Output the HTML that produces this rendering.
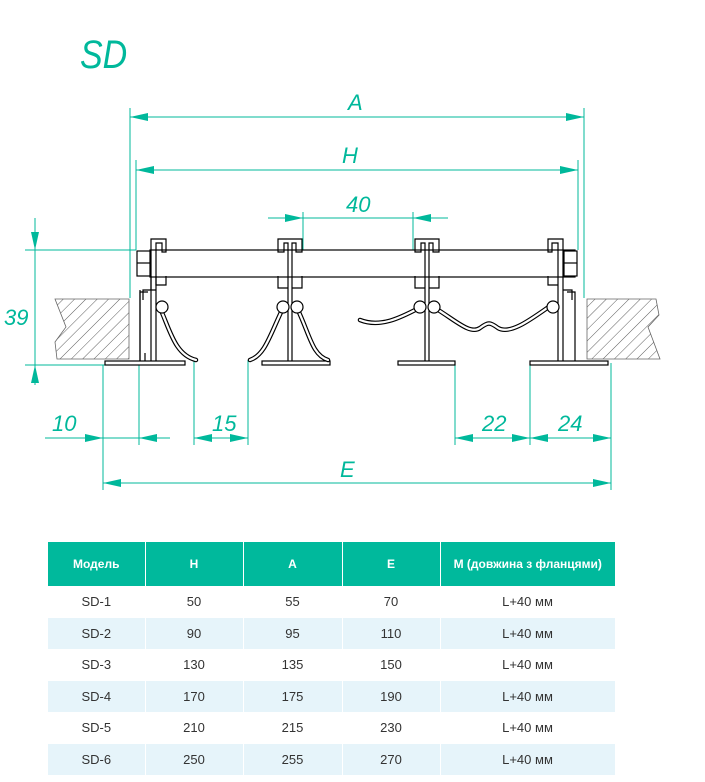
<!DOCTYPE html>
<html><head><meta charset="utf-8"><style>
body{margin:0;background:#fff;width:705px;height:782px;position:relative;font-family:"Liberation Sans",sans-serif;overflow:hidden}
svg{position:absolute;left:0;top:0}
table{position:absolute;left:48px;top:542px;border-collapse:collapse;font-size:13px;color:#333;table-layout:fixed;width:567px}
td,th{text-align:center;padding:0}
th{background:#00b99c;color:#fff;font-weight:bold;font-size:12px;height:44px;border-right:1px solid #fff}
td{height:31.5px;border-right:1px solid #fff}
tr.a td{background:#e6f4fa}
</style></head><body>
<svg width="705" height="520" viewBox="0 0 705 520">
<defs>
<pattern id="h" width="8" height="8" patternUnits="userSpaceOnUse" patternTransform="rotate(45)">
<line x1="0" y1="0" x2="0" y2="8" stroke="#333" stroke-width="0.8"/></pattern>
<marker id="ar" markerWidth="18" markerHeight="10" refX="18" refY="5" orient="auto" markerUnits="userSpaceOnUse"><path d="M0,1 L18,5 L0,9 Z" fill="#00b89b"/></marker>
</defs>
<g font-family="Liberation Sans" font-style="italic" fill="#00b89b">
<text x="80" y="68" font-size="40" transform="translate(80,0) scale(0.85,1) translate(-80,0)">SD</text>
<text x="348" y="110" font-size="22">A</text>
<text x="342" y="163" font-size="22">H</text>
<text x="346" y="212" font-size="22">40</text>
<text x="4" y="325" font-size="22">39</text>
<text x="52" y="431" font-size="22">10</text>
<text x="212" y="431" font-size="22">15</text>
<text x="482" y="431" font-size="22">22</text>
<text x="558" y="431" font-size="22">24</text>
<text x="340" y="477" font-size="22">E</text>
</g>
<g stroke="#00b89b" stroke-width="1" fill="none">
<line x1="130" y1="108" x2="130" y2="298"/><line x1="584" y1="108" x2="584" y2="298"/>
<line x1="130" y1="117" x2="584" y2="117" marker-end="url(#ar)"/><line x1="584" y1="117" x2="130" y2="117" marker-end="url(#ar)"/>
<line x1="136" y1="160" x2="136" y2="250"/><line x1="578" y1="160" x2="578" y2="250"/>
<line x1="136" y1="170" x2="578" y2="170" marker-end="url(#ar)"/><line x1="578" y1="170" x2="136" y2="170" marker-end="url(#ar)"/>
<line x1="303" y1="212" x2="303" y2="250"/><line x1="413" y1="212" x2="413" y2="250"/>
<line x1="268" y1="218" x2="303" y2="218" marker-end="url(#ar)"/><line x1="448" y1="218" x2="413" y2="218" marker-end="url(#ar)"/><line x1="303" y1="218" x2="413" y2="218"/>
<line x1="25" y1="250" x2="136" y2="250"/><line x1="25" y1="365" x2="105" y2="365"/>
<line x1="35" y1="218" x2="35" y2="250" marker-end="url(#ar)"/><line x1="35" y1="385" x2="35" y2="365" marker-end="url(#ar)"/><line x1="35" y1="250" x2="35" y2="365"/>
<line x1="103" y1="365" x2="103" y2="490"/><line x1="139" y1="365" x2="139" y2="445"/>
<line x1="45" y1="438" x2="103" y2="438" marker-end="url(#ar)"/><line x1="170" y1="438" x2="139" y2="438" marker-end="url(#ar)"/><line x1="103" y1="438" x2="139" y2="438"/>
<line x1="194" y1="360" x2="194" y2="445"/><line x1="248" y1="360" x2="248" y2="445"/>
<line x1="221" y1="438" x2="194" y2="438" marker-end="url(#ar)"/><line x1="221" y1="438" x2="248" y2="438" marker-end="url(#ar)"/>
<line x1="455" y1="363" x2="455" y2="445"/><line x1="530" y1="363" x2="530" y2="445"/><line x1="611" y1="363" x2="611" y2="490"/>
<line x1="492" y1="438" x2="455" y2="438" marker-end="url(#ar)"/><line x1="492" y1="438" x2="530" y2="438" marker-end="url(#ar)"/>
<line x1="570" y1="438" x2="530" y2="438" marker-end="url(#ar)"/><line x1="570" y1="438" x2="611" y2="438" marker-end="url(#ar)"/>
<line x1="103" y1="483" x2="611" y2="483" marker-end="url(#ar)"/><line x1="611" y1="483" x2="103" y2="483" marker-end="url(#ar)"/>
</g>
<path d="M55,299 L129,299 L129,359 L57,359 L55,342 L66,327 L55,299 Z" fill="url(#h)" stroke="#666" stroke-width="0.8"/>
<path d="M587,299 L656,299 L659,315 L648,327 L660,359 L587,359 Z" fill="url(#h)" stroke="#666" stroke-width="0.8"/>
<g stroke="#000" stroke-width="1.2" fill="#fff">
<rect x="150" y="250" width="425" height="27"/>
<rect x="137" y="251" width="13" height="25"/><line x1="137" y1="263" x2="150" y2="263"/>
<rect x="564" y="251" width="13" height="25"/><line x1="564" y1="263" x2="577" y2="263"/>
<rect x="105" y="361" width="80" height="4"/>
<rect x="262" y="361" width="68" height="4"/>
<rect x="398" y="361" width="57" height="4"/>
<rect x="530" y="361" width="78" height="4"/>
</g>
<g stroke="#000" stroke-width="1.2" fill="none">
<path d="M151,361 V239 H166 V252 H162 V243 H156 V361"/>
<path d="M151,276 V290 M156,276 V285 H166 V276 M156,290 H143 V300 M140,361 V292 H148 M140,361 V353 M145,361 V353"/>
<path d="M140,290 V361"/>
<path d="M563,361 V239 H548 V252 H552 V243 H558 V361"/>
<path d="M558,285 H548 V276 M563,290 H572 V300 M575,361 V292 H567 M575,292 V361"/>
<path d="M288,361 V243 H284 V252 H278 V239 H302 V252 H296 V243 H292 V361"/>
<path d="M278,276 V288 H288 M302,276 V288 H292"/>
<path d="M425,361 V243 H421 V252 H415 V239 H439 V252 H433 V243 H429 V361"/>
<path d="M415,276 V288 H425 M439,276 V288 H429"/>
</g>
<g fill="none" stroke-linecap="round">
<g stroke="#000" stroke-width="4.5">
<path d="M160,308 C170,330 175,355 196,360"/>
<path d="M283,308 C270,335 265,355 250,360"/>
<path d="M297,308 C310,335 312,355 328,360"/>
<path d="M419,308 C400,318 380,328 360,320"/>
<path d="M435,308 C455,320 470,335 480,328 C488,322 490,322 498,328 C510,335 530,320 550,306"/>
</g>
<g stroke="#fff" stroke-width="2.2">
<path d="M160,308 C170,330 175,355 196,360"/>
<path d="M283,308 C270,335 265,355 250,360"/>
<path d="M297,308 C310,335 312,355 328,360"/>
<path d="M419,308 C400,318 380,328 360,320"/>
<path d="M435,308 C455,320 470,335 480,328 C488,322 490,322 498,328 C510,335 530,320 550,306"/>
</g>
</g>
<g stroke="#000" stroke-width="1.2" fill="#fff">
<circle cx="162" cy="307" r="6"/><circle cx="283" cy="307" r="6"/><circle cx="297" cy="307" r="6"/>
<circle cx="420" cy="307" r="6"/><circle cx="434" cy="307" r="6"/><circle cx="553" cy="307" r="6"/>
</g>
</svg>
<table>
<colgroup><col style="width:97px"><col style="width:98px"><col style="width:99px"><col style="width:98px"><col style="width:175px"></colgroup>
<tr><th>Модель</th><th>H</th><th>A</th><th>E</th><th style="border-right:0">M (довжина з фланцями)</th></tr>
<tr><td>SD-1</td><td>50</td><td>55</td><td>70</td><td>L+40 мм</td></tr>
<tr class="a"><td>SD-2</td><td>90</td><td>95</td><td>110</td><td>L+40 мм</td></tr>
<tr><td>SD-3</td><td>130</td><td>135</td><td>150</td><td>L+40 мм</td></tr>
<tr class="a"><td>SD-4</td><td>170</td><td>175</td><td>190</td><td>L+40 мм</td></tr>
<tr><td>SD-5</td><td>210</td><td>215</td><td>230</td><td>L+40 мм</td></tr>
<tr class="a"><td>SD-6</td><td>250</td><td>255</td><td>270</td><td>L+40 мм</td></tr>
</table>
</body></html>
